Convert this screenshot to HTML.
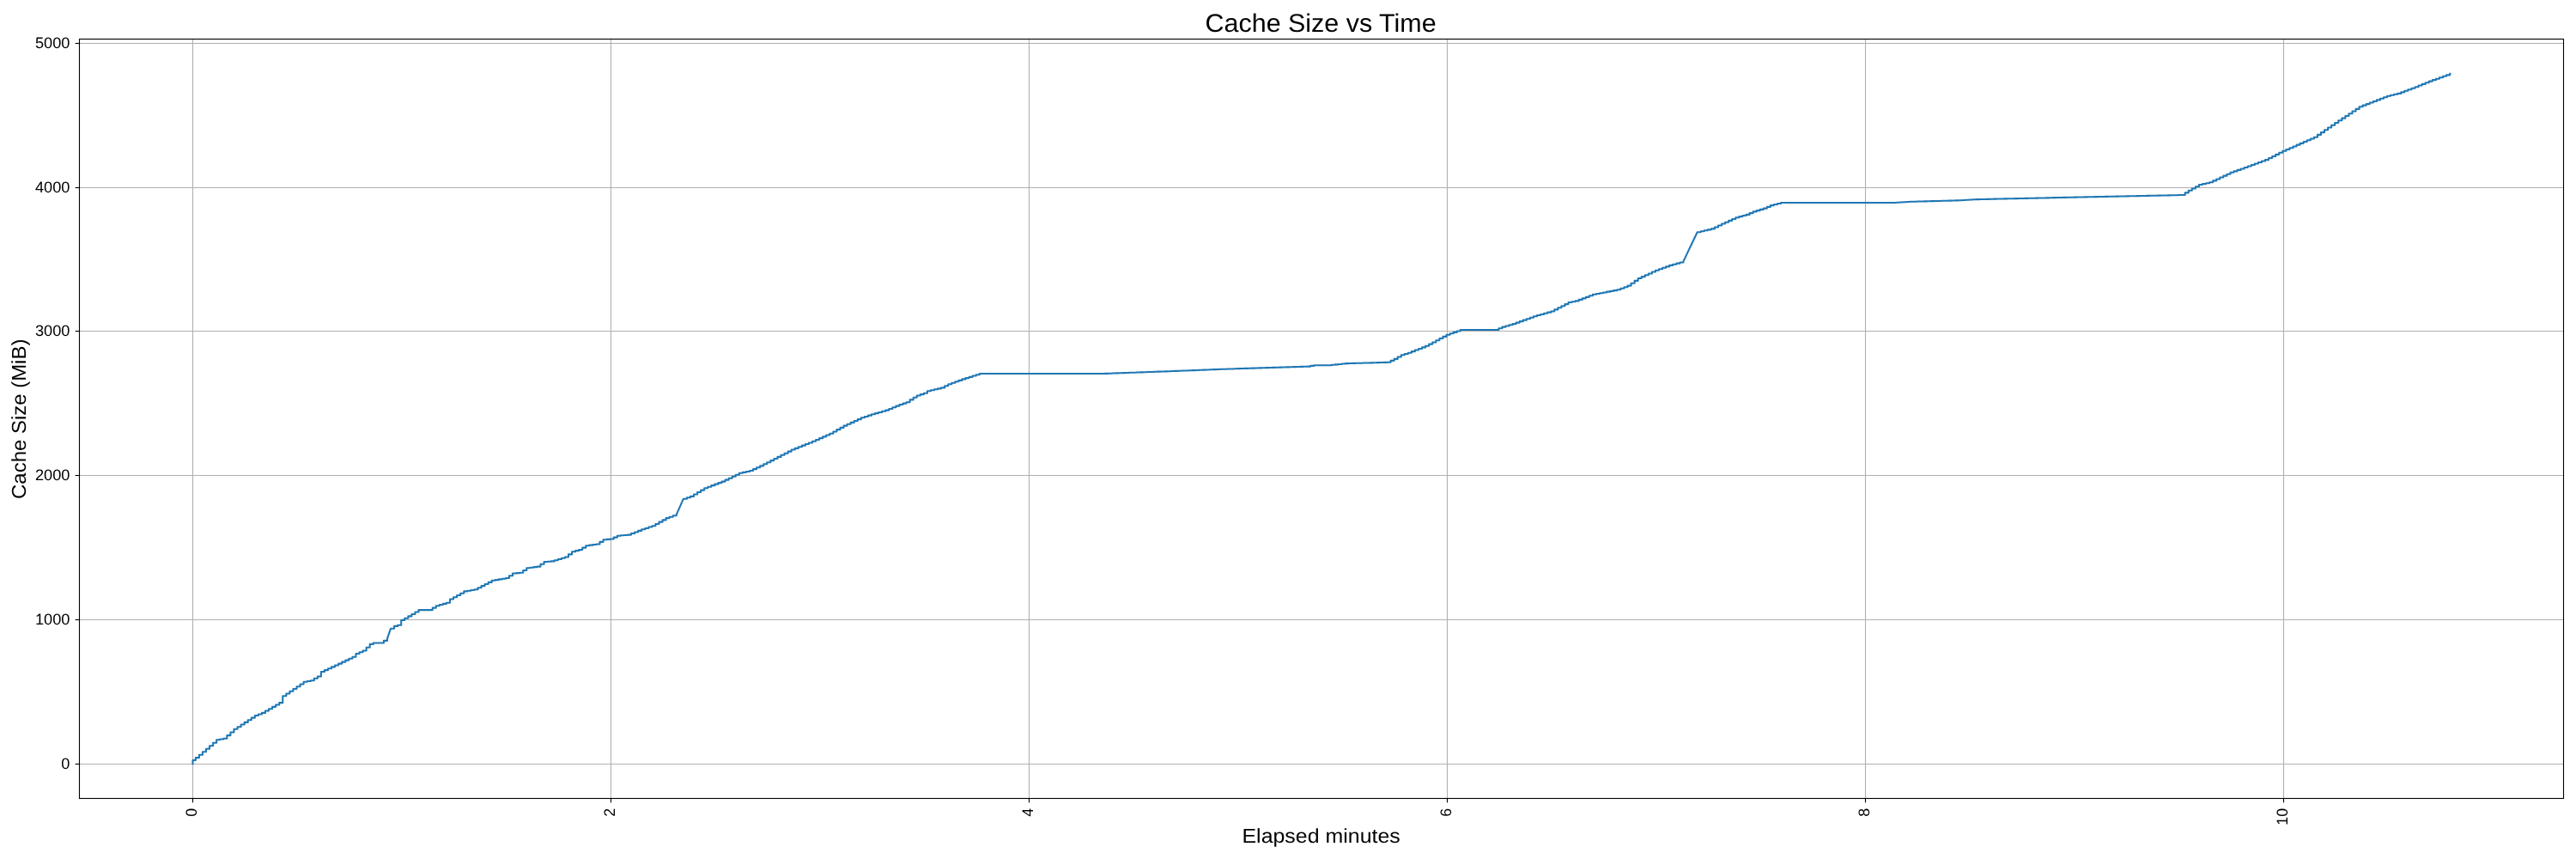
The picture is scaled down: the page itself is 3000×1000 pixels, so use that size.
<!DOCTYPE html>
<html><head><meta charset="utf-8"><style>
html,body{margin:0;padding:0;background:#fff;}
svg{display:block;}
text{font-family:"Liberation Sans", sans-serif;fill:#000;text-rendering:geometricPrecision;}
</style></head><body>
<svg width="3000" height="1000" viewBox="0 0 3000 1000" style="will-change:transform">
<rect width="3000" height="1000" fill="#fff"/>
<g stroke="#b0b0b0" stroke-width="1.11" stroke-linecap="square" fill="none"><line x1="224.5" y1="45.5" x2="224.5" y2="929.5"/><line x1="711.5" y1="45.5" x2="711.5" y2="929.5"/><line x1="1198.5" y1="45.5" x2="1198.5" y2="929.5"/><line x1="1685.5" y1="45.5" x2="1685.5" y2="929.5"/><line x1="2172.5" y1="45.5" x2="2172.5" y2="929.5"/><line x1="2659.5" y1="45.5" x2="2659.5" y2="929.5"/><line x1="92.5" y1="889.5" x2="2985.5" y2="889.5"/><line x1="92.5" y1="721.5" x2="2985.5" y2="721.5"/><line x1="92.5" y1="553.5" x2="2985.5" y2="553.5"/><line x1="92.5" y1="385.5" x2="2985.5" y2="385.5"/><line x1="92.5" y1="218.5" x2="2985.5" y2="218.5"/><line x1="92.5" y1="50.5" x2="2985.5" y2="50.5"/></g>
<path d="M224.50 889.30 L224.50 885.00 H227.84 V882.14 H231.90 V878.67 H235.96 V875.19 H240.01 V871.72 H244.07 V868.25 H248.13 V864.77 H252.19 V861.30 H256.24 V860.55 H260.30 V859.80 H264.36 V856.13 H268.42 V852.47 H272.47 V848.80 H276.53 V846.17 H280.59 V843.53 H284.65 V840.90 H288.70 V838.27 H292.76 V835.63 H296.82 V833.00 H300.88 V831.45 H304.93 V829.90 H308.99 V827.55 H313.05 V825.20 H317.11 V822.85 H321.16 V820.50 H325.22 V818.15 H329.28 V810.30 H333.34 V807.55 H337.40 V804.80 H341.45 V802.05 H345.51 V799.30 H349.57 V796.55 H353.63 V793.80 H357.68 V793.00 H361.74 V792.20 H365.80 V789.83 H369.86 V787.47 H373.91 V782.00 H377.97 V780.12 H382.03 V778.24 H386.09 V776.36 H390.14 V774.48 H394.20 V772.60 H398.26 V770.62 H402.32 V768.65 H406.37 V766.68 H410.43 V764.70 H414.49 V761.00 H418.55 V759.25 H422.60 V757.50 H426.66 V753.70 H430.72 V749.90 H434.78 V748.50 H438.84 V748.50 H442.89 V748.50 H446.95 V745.90 H451.01 V743.30 L455.07 731.70 H459.12 V728.90 H463.18 V727.70 H467.24 V721.90 H471.30 V719.80 H475.35 V717.38 H479.41 V714.95 H483.47 V712.52 H487.53 V710.10 H491.58 V710.10 H495.64 V710.10 H499.70 V710.10 H503.76 V707.65 H507.81 V705.20 H511.87 V704.03 H515.93 V702.87 H519.99 V701.70 H524.04 V697.50 H528.10 V695.23 H532.16 V692.95 H536.22 V690.68 H540.28 V688.40 H544.33 V687.70 H548.39 V687.00 H552.45 V686.30 H556.51 V684.20 H560.56 V682.10 H564.62 V680.00 H568.68 V677.90 H572.74 V675.80 H576.79 V675.10 H580.85 V674.40 H584.91 V673.70 H588.97 V673.00 H593.02 V670.25 H597.08 V667.50 H601.14 V667.15 H605.20 V666.80 H609.25 V664.00 H613.31 V661.20 H617.37 V660.67 H621.43 V660.13 H625.48 V659.60 H629.54 V656.80 H633.60 V654.00 H637.66 V653.70 H641.72 V653.40 H645.77 V652.17 H649.83 V650.95 H653.89 V649.73 H657.95 V648.50 H662.00 V645.35 H666.06 V642.20 H670.12 V641.15 H674.18 V640.10 H678.23 V637.65 H682.29 V635.20 H686.35 V634.63 H690.41 V634.07 H694.46 V633.50 H698.52 V630.85 H702.58 V628.20 H706.64 V627.85 H710.69 V627.50 H714.75 V625.60 H718.81 V623.70 H722.87 V623.33 H726.92 V622.97 H730.98 V622.60 H735.04 V621.02 H739.10 V619.45 H743.16 V617.88 H747.21 V616.30 H751.27 V614.93 H755.33 V613.57 H759.39 V612.20 H763.44 V609.93 H767.50 V607.65 H771.56 V605.38 H775.62 V603.10 H779.67 V601.70 H783.73 V600.30 H787.79 V598.90 L791.85 589.80 L795.90 580.70 H799.96 V579.30 H804.02 V577.90 H808.08 V575.48 H812.13 V573.05 H816.19 V570.62 H820.25 V568.20 H824.31 V566.68 H828.36 V565.16 H832.42 V563.64 H836.48 V562.12 H840.54 V560.60 H844.60 V558.64 H848.65 V556.68 H852.71 V554.72 H856.77 V552.76 H860.83 V550.80 H864.88 V549.87 H868.94 V548.93 H873.00 V548.00 H877.06 V546.13 H881.11 V544.27 H885.17 V542.40 H889.23 V540.30 H893.29 V538.20 H897.34 V536.10 H901.40 V534.00 H905.46 V531.90 H909.52 V529.80 H913.57 V527.70 H917.63 V525.60 H921.69 V523.50 H925.75 V521.88 H929.80 V520.27 H933.86 V518.65 H937.92 V517.03 H941.98 V515.42 H946.04 V513.80 H950.09 V511.98 H954.15 V510.16 H958.21 V508.34 H962.27 V506.52 H966.32 V504.70 H970.38 V502.43 H974.44 V500.15 H978.50 V497.88 H982.55 V495.60 H986.61 V493.74 H990.67 V491.88 H994.73 V490.02 H998.78 V488.16 H1002.84 V486.30 H1006.90 V484.97 H1010.96 V483.63 H1015.01 V482.30 H1019.07 V481.12 H1023.13 V479.95 H1027.19 V478.78 H1031.24 V477.60 H1035.30 V475.95 H1039.36 V474.30 H1043.42 V472.65 H1047.48 V471.00 H1051.53 V469.60 H1055.59 V468.20 H1059.65 V465.40 H1063.71 V462.70 H1067.76 V460.50 H1071.82 V459.10 H1075.88 V457.70 H1079.94 V455.20 H1083.99 V454.25 H1088.05 V453.30 H1092.11 V452.35 H1096.17 V451.40 H1100.22 V449.30 H1104.28 V447.20 H1108.34 V445.75 H1112.40 V444.30 H1116.45 V442.85 H1120.51 V441.40 H1124.57 V440.12 H1128.63 V438.84 H1132.68 V437.56 H1136.74 V436.28 H1140.80 V435.00 H1144.86 V435.00 H1148.92 V435.00 H1152.97 V435.00 H1157.03 V435.00 H1161.09 V435.00 H1165.15 V435.00 H1169.20 V435.00 H1173.26 V435.00 H1177.32 V435.00 H1181.38 V435.00 H1185.43 V435.00 H1189.49 V435.00 H1193.55 V435.00 H1197.61 V435.00 H1201.66 V435.00 H1205.72 V435.00 H1209.78 V435.00 H1213.84 V435.00 H1217.89 V435.00 H1221.95 V435.00 H1226.01 V435.00 H1230.07 V435.00 H1234.12 V435.00 H1238.18 V435.00 H1242.24 V435.00 H1246.30 V435.00 H1250.36 V435.00 H1254.41 V435.00 H1258.47 V435.00 H1262.53 V435.00 H1266.59 V435.00 H1270.64 V435.00 H1274.70 V435.00 H1278.76 V435.00 H1282.82 V435.00 H1286.87 V434.85 H1290.93 V434.70 H1294.99 V434.56 H1299.05 V434.41 H1303.10 V434.26 H1307.16 V434.11 H1311.22 V433.97 H1315.28 V433.82 H1319.33 V433.67 H1323.39 V433.52 H1327.45 V433.38 H1331.51 V433.23 H1335.56 V433.08 H1339.62 V432.93 H1343.68 V432.79 H1347.74 V432.64 H1351.80 V432.49 H1355.85 V432.34 H1359.91 V432.20 H1363.97 V432.05 H1368.03 V431.90 H1372.08 V431.74 H1376.14 V431.58 H1380.20 V431.42 H1384.26 V431.25 H1388.31 V431.09 H1392.37 V430.93 H1396.43 V430.77 H1400.49 V430.61 H1404.54 V430.45 H1408.60 V430.28 H1412.66 V430.12 H1416.72 V429.96 H1420.77 V429.80 H1424.83 V429.67 H1428.89 V429.54 H1432.95 V429.42 H1437.00 V429.29 H1441.06 V429.16 H1445.12 V429.03 H1449.18 V428.90 H1453.24 V428.78 H1457.29 V428.65 H1461.35 V428.52 H1465.41 V428.39 H1469.47 V428.26 H1473.52 V428.14 H1477.58 V428.01 H1481.64 V427.88 H1485.70 V427.75 H1489.75 V427.62 H1493.81 V427.50 H1497.87 V427.37 H1501.93 V427.24 H1505.98 V427.11 H1510.04 V426.98 H1514.10 V426.86 H1518.16 V426.73 H1522.21 V426.60 H1526.27 V425.90 H1530.33 V425.20 H1534.39 V425.20 H1538.44 V425.20 H1542.50 V425.20 H1546.56 V425.20 H1550.62 V424.78 H1554.68 V424.36 H1558.73 V423.94 H1562.79 V423.52 H1566.85 V423.10 H1570.91 V422.99 H1574.96 V422.88 H1579.02 V422.78 H1583.08 V422.67 H1587.14 V422.56 H1591.19 V422.45 H1595.25 V422.34 H1599.31 V422.23 H1603.37 V422.12 H1607.42 V422.02 H1611.48 V421.91 H1615.54 V421.80 H1619.60 V419.85 H1623.65 V417.90 H1627.71 V415.55 H1631.77 V413.20 H1635.83 V411.95 H1639.88 V410.70 H1643.94 V409.12 H1648.00 V407.54 H1652.06 V405.96 H1656.12 V404.38 H1660.17 V402.80 H1664.23 V400.62 H1668.29 V398.43 H1672.35 V396.25 H1676.40 V394.07 H1680.46 V391.88 H1684.52 V389.70 H1688.58 V388.28 H1692.63 V386.85 H1696.69 V385.42 H1700.75 V384.00 H1704.81 V384.00 H1708.86 V384.00 H1712.92 V384.00 H1716.98 V384.00 H1721.04 V384.00 H1725.09 V384.00 H1729.15 V384.00 H1733.21 V384.00 H1737.27 V384.00 H1741.32 V384.00 H1745.38 V382.30 H1749.44 V380.60 H1753.50 V379.43 H1757.56 V378.27 H1761.61 V377.10 H1765.67 V375.62 H1769.73 V374.13 H1773.79 V372.65 H1777.84 V371.17 H1781.90 V369.68 H1785.96 V368.20 H1790.02 V367.06 H1794.07 V365.92 H1798.13 V364.78 H1802.19 V363.64 H1806.25 V362.50 H1810.30 V360.40 H1814.36 V358.30 H1818.42 V356.20 H1822.48 V354.10 H1826.53 V352.00 H1830.59 V351.20 H1834.65 V350.40 H1838.71 V348.88 H1842.76 V347.36 H1846.82 V345.84 H1850.88 V344.32 H1854.94 V342.80 H1859.00 V342.01 H1863.05 V341.23 H1867.11 V340.44 H1871.17 V339.66 H1875.23 V338.87 H1879.28 V338.09 H1883.34 V337.30 H1887.40 V335.73 H1891.46 V334.17 H1895.51 V332.60 H1899.57 V329.73 H1903.63 V326.87 H1907.69 V324.00 H1911.74 V322.14 H1915.80 V320.28 H1919.86 V318.42 H1923.92 V316.56 H1927.97 V314.70 H1932.03 V313.25 H1936.09 V311.80 H1940.15 V310.35 H1944.20 V308.90 H1948.26 V307.78 H1952.32 V306.65 H1956.38 V305.53 H1960.44 V304.40 L1964.49 295.85 L1968.55 287.30 L1972.61 278.75 L1976.67 270.20 H1980.72 V269.25 H1984.78 V268.30 H1988.84 V267.35 H1992.90 V266.40 H1996.95 V264.43 H2001.01 V262.47 H2005.07 V260.50 H2009.13 V258.67 H2013.18 V256.85 H2017.24 V255.03 H2021.30 V253.20 H2025.36 V252.10 H2029.41 V251.00 H2033.47 V249.90 H2037.53 V248.15 H2041.59 V246.40 H2045.64 V245.13 H2049.70 V243.87 H2053.76 V242.60 H2057.82 V240.85 H2061.88 V239.10 H2065.93 V238.07 H2069.99 V237.03 H2074.05 V236.00 H2078.11 V236.00 H2082.16 V236.00 H2086.22 V236.00 H2090.28 V236.00 H2094.34 V236.00 H2098.39 V236.00 H2102.45 V236.00 H2106.51 V236.00 H2110.57 V236.00 H2114.62 V236.00 H2118.68 V236.00 H2122.74 V236.00 H2126.80 V236.00 H2130.85 V236.00 H2134.91 V236.00 H2138.97 V236.00 H2143.03 V236.00 H2147.08 V236.00 H2151.14 V236.00 H2155.20 V236.00 H2159.26 V236.00 H2163.32 V236.00 H2167.37 V236.00 H2171.43 V236.00 H2175.49 V236.00 H2179.55 V236.00 H2183.60 V236.00 H2187.66 V236.00 H2191.72 V236.00 H2195.78 V236.00 H2199.83 V236.00 H2203.89 V236.00 H2207.95 V235.76 H2212.01 V235.52 H2216.06 V235.28 H2220.12 V235.04 H2224.18 V234.80 H2228.24 V234.69 H2232.29 V234.58 H2236.35 V234.48 H2240.41 V234.37 H2244.47 V234.26 H2248.52 V234.15 H2252.58 V234.05 H2256.64 V233.94 H2260.70 V233.83 H2264.76 V233.72 H2268.81 V233.62 H2272.87 V233.51 H2276.93 V233.40 H2280.99 V233.18 H2285.04 V232.97 H2289.10 V232.75 H2293.16 V232.53 H2297.22 V232.32 H2301.27 V232.10 H2305.33 V232.01 H2309.39 V231.92 H2313.45 V231.84 H2317.50 V231.75 H2321.56 V231.66 H2325.62 V231.57 H2329.68 V231.48 H2333.73 V231.39 H2337.79 V231.31 H2341.85 V231.22 H2345.91 V231.13 H2349.96 V231.04 H2354.02 V230.95 H2358.08 V230.86 H2362.14 V230.78 H2366.20 V230.69 H2370.25 V230.60 H2374.31 V230.51 H2378.37 V230.42 H2382.43 V230.34 H2386.48 V230.25 H2390.54 V230.16 H2394.60 V230.07 H2398.66 V229.98 H2402.71 V229.89 H2406.77 V229.81 H2410.83 V229.72 H2414.89 V229.63 H2418.94 V229.54 H2423.00 V229.45 H2427.06 V229.36 H2431.12 V229.28 H2435.17 V229.19 H2439.23 V229.10 H2443.29 V229.02 H2447.35 V228.93 H2451.40 V228.85 H2455.46 V228.76 H2459.52 V228.68 H2463.58 V228.60 H2467.64 V228.51 H2471.69 V228.43 H2475.75 V228.34 H2479.81 V228.26 H2483.87 V228.18 H2487.92 V228.09 H2491.98 V228.01 H2496.04 V227.92 H2500.10 V227.84 H2504.15 V227.76 H2508.21 V227.67 H2512.27 V227.59 H2516.33 V227.50 H2520.38 V227.42 H2524.44 V227.34 H2528.50 V227.25 H2532.56 V227.17 H2536.61 V227.08 H2540.67 V227.00 H2544.73 V224.40 H2548.79 V221.80 H2552.84 V219.53 H2556.90 V217.27 H2560.96 V215.00 H2565.02 V214.10 H2569.08 V213.20 H2573.13 V212.30 H2577.19 V210.38 H2581.25 V208.47 H2585.31 V206.55 H2589.36 V204.63 H2593.42 V202.72 H2597.48 V200.80 H2601.54 V199.34 H2605.59 V197.88 H2609.65 V196.42 H2613.71 V194.96 H2617.77 V193.50 H2621.82 V192.02 H2625.88 V190.54 H2629.94 V189.06 H2634.00 V187.58 H2638.05 V186.10 H2642.11 V184.02 H2646.17 V181.95 H2650.23 V179.87 H2654.28 V177.80 H2658.34 V175.80 H2662.40 V174.01 H2666.46 V172.22 H2670.52 V170.43 H2674.57 V168.64 H2678.63 V166.86 H2682.69 V165.07 H2686.75 V163.28 H2690.80 V161.49 H2694.86 V159.70 H2698.92 V156.90 H2702.98 V154.10 H2707.03 V151.30 H2711.09 V148.50 H2715.15 V145.70 H2719.21 V143.01 H2723.26 V140.32 H2727.32 V137.64 H2731.38 V134.95 H2735.44 V132.26 H2739.49 V129.58 H2743.55 V126.89 H2747.61 V124.20 H2751.67 V122.65 H2755.72 V121.10 H2759.78 V119.53 H2763.84 V117.97 H2767.90 V116.40 H2771.96 V114.83 H2776.01 V113.27 H2780.07 V111.70 H2784.13 V110.77 H2788.19 V109.83 H2792.24 V108.90 H2796.30 V107.36 H2800.36 V105.82 H2804.42 V104.28 H2808.47 V102.74 H2812.53 V101.20 H2816.59 V99.55 H2820.65 V97.90 H2824.70 V96.25 H2828.76 V94.60 H2832.82 V93.16 H2836.88 V91.71 H2840.93 V90.27 H2844.99 V88.83 H2849.05 V87.38 H2853.11 V85.94 H2853.50 V85.80" fill="none" stroke="#1f77b4" stroke-width="2.083" stroke-linejoin="round" stroke-linecap="square"/>
<rect x="92.5" y="45.5" width="2893.0" height="884.0" fill="none" stroke="#000" stroke-width="1.11" stroke-linejoin="miter"/>
<g stroke="#000" stroke-width="1.11" fill="none"><line x1="224.5" y1="929.5" x2="224.5" y2="934.36"/><line x1="711.5" y1="929.5" x2="711.5" y2="934.36"/><line x1="1198.5" y1="929.5" x2="1198.5" y2="934.36"/><line x1="1685.5" y1="929.5" x2="1685.5" y2="934.36"/><line x1="2172.5" y1="929.5" x2="2172.5" y2="934.36"/><line x1="2659.5" y1="929.5" x2="2659.5" y2="934.36"/><line x1="92.5" y1="889.5" x2="87.64" y2="889.5"/><line x1="92.5" y1="721.5" x2="87.64" y2="721.5"/><line x1="92.5" y1="553.5" x2="87.64" y2="553.5"/><line x1="92.5" y1="385.5" x2="87.64" y2="385.5"/><line x1="92.5" y1="218.5" x2="87.64" y2="218.5"/><line x1="92.5" y1="50.5" x2="87.64" y2="50.5"/></g>
<text transform="translate(1538.1 37.0) scale(1.022 1)" text-anchor="middle" font-size="29.8">Cache Size vs Time</text>
<text transform="translate(1538.6 980.9) scale(1.072 1)" text-anchor="middle" font-size="23.25">Elapsed minutes</text>
<text transform="translate(29.9 487.8) rotate(-90) scale(1.030 1)" text-anchor="middle" font-size="23.25">Cache Size (MiB)</text>
<text transform="translate(81.5 895.40) scale(1.012 1)" text-anchor="end" font-size="18">0</text><text transform="translate(81.5 727.40) scale(1.012 1)" text-anchor="end" font-size="18">1000</text><text transform="translate(81.5 559.40) scale(1.012 1)" text-anchor="end" font-size="18">2000</text><text transform="translate(81.5 391.40) scale(1.012 1)" text-anchor="end" font-size="18">3000</text><text transform="translate(81.5 224.40) scale(1.012 1)" text-anchor="end" font-size="18">4000</text><text transform="translate(81.5 56.40) scale(1.012 1)" text-anchor="end" font-size="18">5000</text>
<text transform="translate(229.40 940.9) rotate(-90) scale(0.988 1)" text-anchor="end" font-size="18">0</text><text transform="translate(716.40 940.9) rotate(-90) scale(0.988 1)" text-anchor="end" font-size="18">2</text><text transform="translate(1203.40 940.9) rotate(-90) scale(0.988 1)" text-anchor="end" font-size="18">4</text><text transform="translate(1690.40 940.9) rotate(-90) scale(0.988 1)" text-anchor="end" font-size="18">6</text><text transform="translate(2177.40 940.9) rotate(-90) scale(0.988 1)" text-anchor="end" font-size="18">8</text><text transform="translate(2664.40 940.9) rotate(-90) scale(0.988 1)" text-anchor="end" font-size="18">10</text>
</svg>
</body></html>
